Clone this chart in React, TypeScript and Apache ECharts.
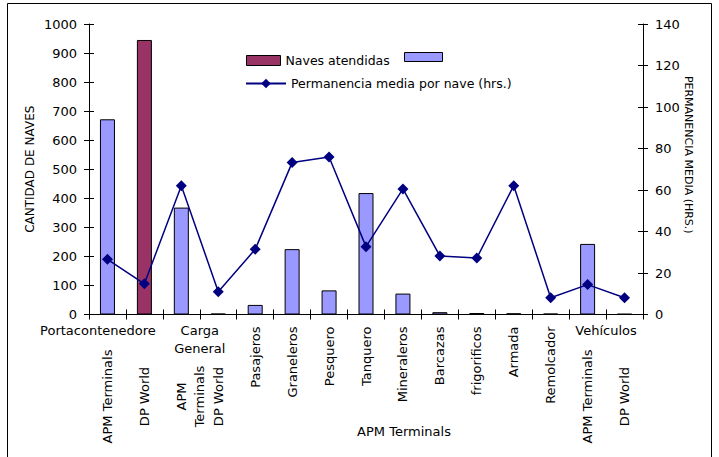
import React, { useEffect, useRef } from "react";
import * as echarts from "echarts";

const categories = [
  "APM Terminals",
  "DP World",
  "APM\nTerminals",
  "DP World",
  "Pasajeros",
  "Graneleros",
  "Pesquero",
  "Tanquero",
  "Mineraleros",
  "Barcazas",
  "frigorificos",
  "Armada",
  "Remolcador",
  "APM Terminals",
  "DP World",
];
const isSubCategory = [true, true, true, true, false, false, false, false, false, false, false, false, false, true, true];
const groupPositions = [1, 3, 14];
const groupNames = ["Portacontenedore", "Carga\nGeneral", "Vehículos"];
const navesAtendidas = [672, 945, 368, 3, 33, 225, 83, 418, 72, 8, 5, 4, 3, 243, 2];
const permanencia = [26.6, 14.8, 62.1, 11.0, 31.4, 73.2, 75.9, 32.7, 60.5, 28.2, 27.2, 62.1, 8.1, 14.4, 8.1];
const highlightedIndex = 1;

const FONT = "DejaVu Sans";

export default function App() {
  const ref = useRef<HTMLDivElement>(null);

  useEffect(() => {
    document.body.style.margin = "0";
    const chart = echarts.init(ref.current!, undefined, { renderer: "svg" });
    const txt = { color: "#000", fontFamily: FONT, fontSize: 13 };

    const yCommon = (pos: "left" | "right", max: number, interval: number) => ({
      type: "value",
      position: pos,
      min: 0,
      max,
      interval,
      splitLine: { show: false },
    });

    chart.setOption({
      animation: false,
      backgroundColor: "#fff",
      textStyle: { fontFamily: FONT },
      grid: {
        left: 89,
        right: 76,
        top: 24,
        bottom: 142.5,
        containLabel: false,
        outerBoundsMode: "none",
      },
      legend: [
        {
          data: [
            {
              name: "Naves atendidas",
              icon: "rect",
              itemStyle: { color: "#993366", borderColor: "#000", borderWidth: 1 },
            },
          ],
          left: 246,
          top: 54,
          itemWidth: 34,
          itemHeight: 10,
          padding: 0,
          textStyle: { ...txt, fontSize: 12.5 },
        },
        {
          data: ["Permanencia media por nave (hrs.)"],
          left: 245,
          top: 77,
          itemWidth: 40,
          itemHeight: 12,
          padding: 0,
          textStyle: { ...txt, fontSize: 12.5 },
        },
      ],
      graphic: [
        {
          type: "rect",
          shape: { x: 7.5, y: 3.5, width: 704, height: 480 },
          style: { fill: "none", stroke: "#000", lineWidth: 1 },
          silent: true,
        },
        {
          type: "rect",
          shape: { x: 404.5, y: 52.5, width: 38, height: 9 },
          style: { fill: "#9999FF", stroke: "#000", lineWidth: 1 },
        },
      ],
      xAxis: [
        {
          type: "category",
          data: categories,
          position: "bottom",
          boundaryGap: true,
          axisLine: { lineStyle: { color: "#000", width: 1 } },
          axisTick: { show: true, length: 5, interval: 0, lineStyle: { color: "#000" } },
          axisLabel: {
            ...txt,
            interval: 0,
            rotate: 90,
            margin: 12,
            formatter: (v: string, i: number) => (isSubCategory[i] ? "" : v),
          },
        },
        {
          type: "category",
          data: categories,
          position: "bottom",
          boundaryGap: true,
          axisLine: { show: false },
          axisTick: { show: true, inside: true, length: 5, interval: 0, lineStyle: { color: "#000" } },
          axisLabel: {
            ...txt,
            interval: 0,
            rotate: 90,
            margin: 82,
            align: "center",
            verticalAlign: "middle",
            lineHeight: 18,
            formatter: (v: string, i: number) =>
              isSubCategory[i] ? (v.indexOf("\n") >= 0 ? "\n" + v : v) : "",
          },
          name: "APM Terminals",
          nameLocation: "middle",
          nameGap: 110,
          nameMoveOverlap: false,
          nameTextStyle: { ...txt, padding: [0, 0, 0, 76] },
        },
        {
          type: "value",
          position: "bottom",
          min: 0,
          max: categories.length,
          interval: 1,
          axisLine: { show: false },
          axisTick: { show: false },
          splitLine: { show: false },
          axisLabel: {
            ...txt,
            margin: 7,
            lineHeight: 18,
            showMinLabel: true,
            showMaxLabel: true,
            formatter: (v: number) => {
              const k = groupPositions.indexOf(v);
              if (k < 0) return "";
              return k === 0 ? "{p|" + groupNames[k] + "}" : groupNames[k];
            },
            rich: { p: { ...txt, padding: [0, 56, 0, 0] } },
          },
        },
      ],
      yAxis: [
        {
          ...yCommon("left", 1000, 100),
          axisLine: { show: true, lineStyle: { color: "#000" } },
          axisTick: { show: true, length: 5, lineStyle: { color: "#000" } },
          axisLabel: { ...txt, margin: 12, formatter: (v: number) => String(v) },
          name: "CANTIDAD DE NAVES",
          nameLocation: "middle",
          nameRotate: 90,
          nameGap: 53,
          nameMoveOverlap: false,
          nameTextStyle: { ...txt, fontSize: 12 },
        },
        {
          ...yCommon("right", 140, 20),
          axisLine: { show: true, lineStyle: { color: "#000" } },
          axisTick: { show: true, length: 5, lineStyle: { color: "#000" } },
          axisLabel: { ...txt, margin: 12, formatter: (v: number) => String(v) },
          name: "PERMANENCIA MEDIA (HRS.)",
          nameLocation: "middle",
          nameRotate: -90,
          nameGap: 40,
          nameMoveOverlap: false,
          nameTextStyle: { ...txt, fontSize: 11, padding: [0, 29, 0, 0] },
        },
        {
          ...yCommon("left", 1000, 100),
          axisLine: { show: false },
          axisTick: { show: true, inside: true, length: 5, lineStyle: { color: "#000" } },
          axisLabel: { show: false },
        },
        {
          ...yCommon("right", 140, 20),
          axisLine: { show: false },
          axisTick: { show: true, inside: true, length: 5, lineStyle: { color: "#000" } },
          axisLabel: { show: false },
        },
      ],
      series: [
        {
          name: "Naves atendidas",
          type: "bar",
          xAxisIndex: 0,
          yAxisIndex: 0,
          barWidth: 15,
          itemStyle: { color: "#9999FF", borderColor: "#000", borderWidth: 1 },
          data: navesAtendidas.map((v, i) =>
            i === highlightedIndex ? { value: v, itemStyle: { color: "#993366" } } : v
          ),
        },
        {
          name: "Permanencia media por nave (hrs.)",
          type: "line",
          xAxisIndex: 0,
          yAxisIndex: 1,
          symbol: "diamond",
          symbolSize: 11,
          lineStyle: { color: "#000080", width: 1.5 },
          itemStyle: { color: "#000080" },
          data: permanencia,
        },
      ],
    });
    return () => chart.dispose();
  }, []);

  return (
    <div
      ref={ref}
      style={{ position: "absolute", left: 0, top: 0, width: 719, height: 457 }}
    />
  );
}
